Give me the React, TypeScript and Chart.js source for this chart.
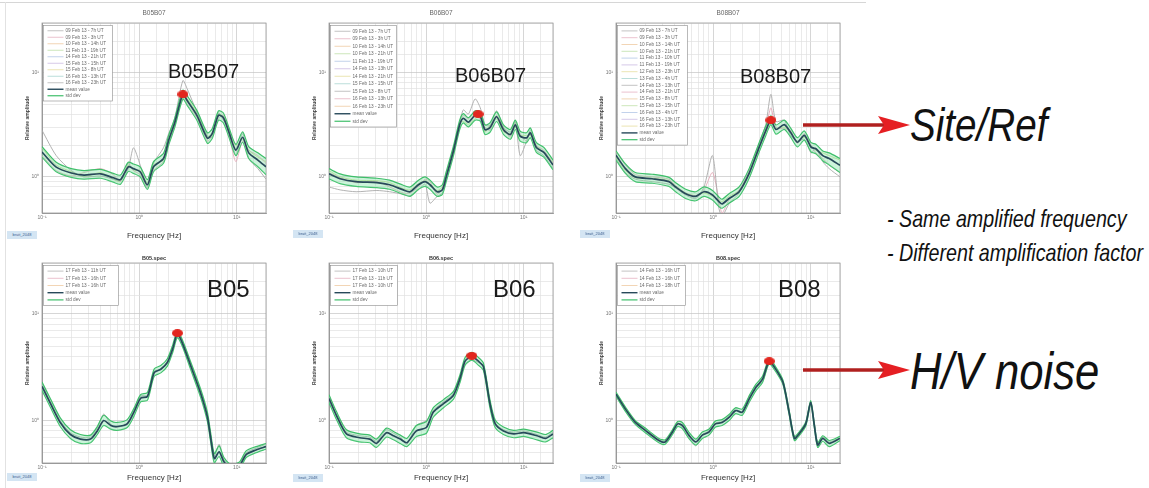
import React, { useEffect, useRef } from "react";
import { Chart, registerables } from "chart.js";
Chart.register(...registerables);

// ---------------- DATA ----------------
// B05B07 : site / reference spectral ratio
const b05b07Freq = [0.1, 0.14, 0.2, 0.27, 0.4, 0.54, 0.64, 0.77, 0.87, 1.02, 1.21, 1.4, 1.77, 2.0, 2.3, 2.8, 3.1, 3.9, 5.0, 5.6, 6.5, 7.3, 8.3, 9.8, 11.5, 13.3, 16.5, 20];
const b05b07Mean = [1.73, 1.24, 1.09, 1.04, 1.07, 0.98, 0.94, 1.25, 1.2, 1.12, 0.84, 1.25, 1.5, 2.25, 3.27, 6.2, 5.4, 3.9, 2.35, 2.6, 3.9, 3.7, 2.7, 1.8, 2.4, 1.7, 1.45, 1.25];
const b05b07Upper = [1.95, 1.38, 1.2, 1.15, 1.18, 1.08, 1.04, 1.38, 1.33, 1.25, 0.94, 1.4, 1.68, 2.5, 3.6, 6.8, 6.0, 4.35, 2.65, 2.9, 4.3, 4.1, 3.0, 2.05, 2.7, 1.95, 1.7, 1.5];
const b05b07Lower = [1.55, 1.12, 0.99, 0.95, 0.97, 0.89, 0.85, 1.13, 1.08, 1.0, 0.76, 1.12, 1.35, 2.02, 2.95, 5.6, 4.85, 3.5, 2.1, 2.33, 3.5, 3.3, 2.42, 1.6, 2.15, 1.5, 1.25, 1.05];
const b05b07RecA = [2.8, 1.6, 1.15, 1.0, 1.02, 0.95, 0.92, 1.2, 1.9, 1.3, 0.8, 1.35, 1.9, 2.6, 3.6, 8.4, 7.0, 4.2, 2.5, 2.4, 4.1, 3.5, 2.9, 1.6, 2.6, 1.5, 1.2, 0.95];
const b05b07RecB = [1.6, 1.15, 1.02, 1.1, 1.2, 1.05, 0.9, 1.35, 1.15, 1.05, 0.78, 1.15, 1.4, 2.1, 3.1, 6.4, 5.0, 3.7, 2.2, 2.5, 3.6, 3.9, 2.6, 1.4, 2.2, 1.8, 1.6, 1.35];
const b05b07RecC = [1.9, 1.3, 1.12, 1.0, 1.1, 0.95, 0.9, 1.3, 1.15, 1.15, 0.88, 1.3, 1.45, 2.3, 3.3, 5.7, 5.6, 4.1, 2.45, 2.6, 4.0, 3.8, 2.8, 2.0, 2.3, 1.8, 1.55, 1.4];
const b05b07Peak = [2.8, 6.2];
const b05b07Dates = ["09 Feb 13 - 7h UT", "09 Feb 13 - 3h UT", "10 Feb 13 - 14h UT", "11 Feb 13 - 19h UT", "14 Feb 13 - 21h UT", "15 Feb 13 - 15h UT", "15 Feb 13 - 8h UT", "16 Feb 13 - 13h UT", "16 Feb 13 - 23h UT"];

// B06B07
const b06b07Freq = [0.1, 0.13, 0.19, 0.31, 0.42, 0.58, 0.68, 0.83, 0.97, 1.09, 1.29, 1.46, 1.6, 1.9, 2.2, 2.4, 2.7, 3.17, 3.58, 4.0, 4.5, 5.27, 6.2, 7.3, 8.2, 9.2, 10.7, 11.7, 13.5, 16.1, 20];
const b06b07Mean = [1.07, 0.96, 0.9, 0.88, 0.84, 0.75, 0.72, 0.84, 0.9, 0.84, 0.72, 0.75, 1.0, 1.78, 3.16, 3.65, 3.35, 3.9, 3.8, 2.84, 2.97, 3.78, 2.84, 2.55, 3.16, 2.46, 2.37, 2.64, 1.91, 1.72, 1.3];
const b06b07Upper = [1.2, 1.07, 1.0, 0.97, 0.93, 0.83, 0.8, 0.93, 1.0, 0.93, 0.8, 0.84, 1.12, 1.98, 3.5, 4.05, 3.7, 4.3, 4.2, 3.15, 3.3, 4.2, 3.15, 2.85, 3.5, 2.75, 2.65, 2.95, 2.13, 1.92, 1.45];
const b06b07Lower = [0.96, 0.86, 0.81, 0.79, 0.76, 0.68, 0.65, 0.76, 0.81, 0.76, 0.65, 0.68, 0.9, 1.6, 2.85, 3.3, 3.02, 3.5, 3.43, 2.56, 2.68, 3.4, 2.56, 2.3, 2.85, 2.2, 2.13, 2.38, 1.72, 1.55, 1.17];
const b06b07RecA = [0.8, 0.75, 0.72, 0.74, 0.72, 0.68, 0.66, 0.75, 0.85, 0.56, 0.65, 0.7, 1.0, 1.9, 3.3, 4.4, 4.0, 5.6, 4.6, 3.2, 3.1, 4.3, 3.0, 2.7, 3.4, 1.6, 2.2, 2.8, 1.8, 1.6, 1.2];
const b06b07RecB = [1.1, 0.98, 0.88, 0.9, 0.8, 0.7, 0.7, 0.8, 0.95, 0.9, 0.68, 0.78, 1.05, 1.7, 3.0, 3.9, 3.6, 4.2, 3.5, 3.0, 2.8, 3.9, 3.0, 2.4, 3.3, 2.6, 2.2, 2.7, 2.0, 1.8, 1.35];
const b06b07RecC = [1.15, 1.0, 0.93, 0.92, 0.88, 0.77, 0.75, 0.86, 0.92, 0.86, 0.74, 0.8, 1.05, 1.85, 3.3, 3.4, 3.2, 3.6, 3.9, 2.7, 3.1, 3.6, 2.7, 2.6, 3.0, 2.5, 2.5, 2.5, 2.0, 1.7, 1.4];
const b06b07Peak = [3.4, 4.0];
const b06b07Dates = ["09 Feb 13 - 7h UT", "09 Feb 13 - 3h UT", "10 Feb 13 - 14h UT", "10 Feb 13 - 21h UT", "11 Feb 13 - 19h UT", "14 Feb 13 - 13h UT", "14 Feb 13 - 21h UT", "15 Feb 13 - 15h UT", "15 Feb 13 - 8h UT", "16 Feb 13 - 13h UT", "16 Feb 13 - 23h UT"];

// B08B07
const b08b07Freq = [0.1, 0.125, 0.158, 0.235, 0.35, 0.41, 0.52, 0.66, 0.8, 0.98, 1.14, 1.23, 1.45, 1.84, 2.33, 2.96, 3.46, 3.9, 4.4, 5.35, 6.2, 7.3, 8.6, 10.1, 11.3, 13.3, 15.5, 20];
const b08b07Mean = [1.61, 1.2, 1.0, 0.96, 0.9, 0.8, 0.69, 0.65, 0.72, 0.67, 0.58, 0.55, 0.62, 0.72, 1.08, 1.93, 2.78, 3.5, 2.85, 3.17, 2.68, 2.15, 2.5, 1.93, 1.86, 1.6, 1.5, 1.29];
const b08b07Upper = [1.78, 1.33, 1.1, 1.06, 0.99, 0.88, 0.76, 0.72, 0.8, 0.74, 0.64, 0.61, 0.69, 0.8, 1.2, 2.14, 3.08, 3.85, 3.15, 3.5, 2.96, 2.38, 2.76, 2.13, 2.06, 1.77, 1.7, 1.5];
const b08b07Lower = [1.45, 1.08, 0.9, 0.87, 0.81, 0.72, 0.62, 0.59, 0.65, 0.6, 0.52, 0.5, 0.56, 0.65, 0.97, 1.74, 2.5, 3.17, 2.57, 2.86, 2.42, 1.94, 2.25, 1.74, 1.67, 1.43, 1.3, 1.1];
const b08b07RecA = [1.5, 1.1, 0.95, 0.9, 0.85, 0.78, 0.67, 0.62, 0.8, 1.6, 0.5, 0.42, 0.55, 0.7, 1.05, 2.1, 3.2, 6.2, 3.4, 3.5, 2.5, 2.2, 2.3, 1.7, 1.9, 1.4, 1.2, 1.0];
const b08b07RecB = [1.75, 1.3, 1.05, 1.0, 0.95, 0.82, 0.7, 0.66, 0.75, 1.1, 0.6, 0.45, 0.6, 0.75, 1.15, 2.0, 2.9, 4.6, 3.0, 2.9, 2.8, 2.1, 2.6, 2.0, 1.7, 1.5, 1.3, 1.1];
const b08b07RecC = [1.55, 1.15, 0.98, 0.97, 0.92, 0.82, 0.7, 0.66, 0.7, 0.65, 0.6, 0.58, 0.65, 0.74, 1.1, 1.9, 2.7, 3.3, 2.9, 3.0, 2.7, 2.2, 2.4, 2.0, 1.8, 1.7, 1.6, 1.45];
const b08b07Peak = [3.9, 3.5];
const b08b07Dates = ["09 Feb 13 - 7h UT", "09 Feb 13 - 3h UT", "10 Feb 13 - 14h UT", "10 Feb 13 - 21h UT", "11 Feb 13 - 10h UT", "11 Feb 13 - 19h UT", "12 Feb 13 - 23h UT", "13 Feb 13 - 4h UT", "14 Feb 13 - 13h UT", "14 Feb 13 - 21h UT", "15 Feb 13 - 8h UT", "15 Feb 13 - 15h UT", "16 Feb 13 - 4h UT", "16 Feb 13 - 13h UT", "16 Feb 13 - 23h UT"];

// B05 : H/V noise
const b05Freq = [0.1, 0.122, 0.154, 0.196, 0.248, 0.315, 0.37, 0.43, 0.51, 0.59, 0.75, 0.88, 1.03, 1.21, 1.42, 1.66, 1.94, 2.2, 2.46, 2.77, 3.37, 4.26, 5.0, 5.4, 5.9, 6.6, 7.4, 8.7, 10.7, 12.5, 15.8, 20];
const b05Mean = [2.09, 1.45, 0.96, 0.74, 0.67, 0.67, 0.8, 1.0, 0.9, 0.88, 0.93, 1.2, 1.62, 1.68, 2.81, 3.03, 3.5, 4.7, 6.5, 5.3, 3.26, 1.8, 1.08, 0.69, 0.44, 0.51, 0.41, 0.36, 0.38, 0.48, 0.53, 0.57];
const b05Upper = [2.3, 1.6, 1.06, 0.82, 0.74, 0.73, 0.88, 1.12, 0.99, 0.96, 1.02, 1.3, 1.75, 1.83, 3.05, 3.28, 3.8, 5.1, 6.9, 5.7, 3.55, 1.98, 1.2, 0.77, 0.49, 0.58, 0.45, 0.39, 0.41, 0.52, 0.57, 0.61];
const b05Lower = [1.92, 1.33, 0.88, 0.68, 0.61, 0.62, 0.74, 0.9, 0.83, 0.81, 0.86, 1.1, 1.5, 1.55, 2.6, 2.8, 3.24, 4.35, 6.0, 4.95, 3.0, 1.65, 0.98, 0.63, 0.4, 0.46, 0.37, 0.33, 0.35, 0.45, 0.5, 0.54];
const b05RecA = [2.2, 1.5, 1.0, 0.77, 0.7, 0.7, 0.85, 1.15, 0.92, 0.86, 0.95, 1.25, 1.7, 1.72, 2.9, 3.0, 3.6, 4.8, 6.1, 5.5, 3.4, 1.9, 1.1, 0.72, 0.47, 0.6, 0.43, 0.38, 0.4, 0.5, 0.55, 0.6];
const b05Peak = [2.46, 6.6];
const b05Dates = ["17 Feb 13 - 11h UT", "17 Feb 13 - 16h UT", "17 Feb 13 - 16h UT"];

// B06
const b06Freq = [0.1, 0.119, 0.151, 0.207, 0.263, 0.307, 0.39, 0.46, 0.54, 0.63, 0.79, 1.0, 1.18, 1.5, 1.9, 2.22, 2.5, 2.93, 3.43, 3.86, 4.5, 5.1, 6.2, 7.9, 10, 13.7, 16.7, 20];
const b06Mean = [1.61, 1.12, 0.75, 0.69, 0.67, 0.61, 0.77, 0.72, 0.67, 0.62, 0.8, 0.86, 1.2, 1.44, 1.73, 2.49, 3.6, 4.0, 3.6, 3.2, 1.44, 0.93, 0.8, 0.75, 0.77, 0.72, 0.68, 0.75];
const b06Upper = [1.75, 1.22, 0.82, 0.75, 0.73, 0.67, 0.85, 0.79, 0.73, 0.68, 0.9, 0.98, 1.32, 1.57, 1.88, 2.7, 3.9, 4.35, 3.9, 3.45, 1.57, 1.01, 0.87, 0.81, 0.83, 0.78, 0.74, 0.81];
const b06Lower = [1.48, 1.03, 0.69, 0.63, 0.62, 0.56, 0.7, 0.66, 0.61, 0.57, 0.71, 0.76, 1.08, 1.32, 1.59, 2.28, 3.3, 3.68, 3.3, 2.95, 1.32, 0.86, 0.74, 0.69, 0.71, 0.66, 0.63, 0.69];
const b06RecA = [1.7, 1.15, 0.78, 0.72, 0.7, 0.64, 0.82, 0.76, 0.7, 0.6, 0.9, 1.0, 1.25, 1.5, 1.8, 2.6, 3.4, 3.7, 3.5, 3.3, 1.5, 0.95, 0.82, 0.78, 0.8, 0.74, 0.7, 0.78];
const b06Peak = [2.93, 4.05];
const b06Dates = ["17 Feb 13 - 10h UT", "17 Feb 13 - 11h UT", "17 Feb 13 - 10h UT"];

// B08
const b08Freq = [0.1, 0.125, 0.158, 0.2, 0.276, 0.32, 0.38, 0.43, 0.48, 0.56, 0.66, 0.77, 0.9, 1.05, 1.23, 1.45, 1.69, 1.98, 2.33, 2.73, 3.2, 3.75, 4.4, 5.2, 6.0, 6.8, 7.6, 8.9, 10.0, 10.9, 11.8, 13.3, 15.5, 20];
const b08Mean = [1.77, 1.28, 0.96, 0.81, 0.65, 0.63, 0.78, 0.93, 0.9, 0.73, 0.63, 0.73, 0.78, 0.93, 0.96, 1.07, 1.24, 1.2, 1.59, 2.04, 2.44, 3.6, 3.0, 2.27, 1.2, 0.68, 0.75, 0.93, 1.48, 0.9, 0.59, 0.68, 0.61, 0.68];
const b08Upper = [1.85, 1.34, 1.0, 0.85, 0.68, 0.66, 0.82, 0.98, 0.96, 0.78, 0.67, 0.78, 0.83, 0.99, 1.02, 1.14, 1.32, 1.28, 1.7, 2.18, 2.6, 3.8, 3.15, 2.38, 1.26, 0.71, 0.78, 0.97, 1.54, 0.94, 0.62, 0.72, 0.65, 0.71];
const b08Lower = [1.7, 1.22, 0.92, 0.77, 0.62, 0.6, 0.74, 0.88, 0.84, 0.68, 0.59, 0.68, 0.73, 0.87, 0.9, 1.0, 1.16, 1.12, 1.48, 1.9, 2.28, 3.4, 2.85, 2.16, 1.14, 0.65, 0.72, 0.89, 1.42, 0.86, 0.56, 0.64, 0.57, 0.65];
const b08RecA = [1.8, 1.3, 0.98, 0.83, 0.66, 0.64, 0.8, 0.96, 0.86, 0.7, 0.58, 0.74, 0.8, 0.95, 0.98, 1.1, 1.3, 1.15, 1.7, 2.1, 2.3, 3.5, 3.05, 2.3, 1.22, 0.69, 0.74, 0.95, 1.5, 0.92, 0.62, 0.7, 0.63, 0.69];
const b08Peak = [3.75, 3.6];
const b08Dates = ["14 Feb 13 - 16h UT", "14 Feb 13 - 16h UT", "14 Feb 13 - 18h UT"];

const xRange = [0.1, 20];
const yMaxAll = 30;
const yMinTop = 0.45;
const yMinBottom = 0.4;

// ---------------- STYLE ----------------
const FONT = '"Liberation Sans", Arial, sans-serif';
const MEAN = "#27495a";
const STD = "#3fbf6a";
const BAND = "rgba(120, 225, 160, 0.38)";
const REC_COLORS = ["#a9a9a9", "#e3a9b8", "#cddc90"];
const LEG_COLORS = ["#b4b4b4", "#e6b3c2", "#efcaa2", "#bfe0a8", "#b3c7e6", "#cbbbe2", "#e6dea0", "#a9d6d0"];

const SUP: Record<string, string> = { "-": "\u207b", "0": "\u2070", "1": "\u00b9", "2": "\u00b2" };
function decadeLabel(v: number | string) {
  const l = Math.log10(Number(v));
  const r = Math.round(l);
  if (Math.abs(l - r) > 1e-6) return "";
  return "10" + String(r).split("").map((c) => SUP[c] || c).join("");
}

const framePlugin = {
  id: "frame",
  beforeDatasetsDraw(chart: any) {
    const { ctx, chartArea: a } = chart;
    ctx.save();
    ctx.strokeStyle = "#9a9a9a";
    ctx.lineWidth = 0.8;
    ctx.strokeRect(a.left, a.top, a.right - a.left, a.bottom - a.top);
    ctx.restore();
  },
};

const boxLegendPlugin = {
  id: "boxLegend",
  afterDatasetsDraw(chart: any, _args: any, opts: any) {
    const entries = opts && opts.entries;
    if (!entries) return;
    const { ctx, chartArea: a } = chart;
    const x = Math.round(a.left) + 1.5;
    const y = Math.round(a.top) + 2.5;
    const w = opts.width;
    const h = entries.length * opts.rowH + 4;
    ctx.save();
    ctx.fillStyle = "#ffffff";
    ctx.fillRect(x, y, w, h);
    ctx.strokeStyle = "#8a8a8a";
    ctx.lineWidth = 0.6;
    ctx.strokeRect(x, y, w, h);
    ctx.font = `${opts.fontSize}px ${FONT}`;
    ctx.textBaseline = "middle";
    entries.forEach((e: any, i: number) => {
      const cy = y + 2 + opts.rowH * (i + 0.5);
      ctx.strokeStyle = e.color;
      ctx.lineWidth = e.lw;
      ctx.beginPath();
      ctx.moveTo(x + 4, cy);
      ctx.lineTo(x + 20, cy);
      ctx.stroke();
      ctx.fillStyle = "#6a6a6a";
      ctx.fillText(e.text, x + 22, cy);
    });
    ctx.restore();
  },
};

type PanelProps = {
  left: number; top: number; width: number; height: number;
  title: string; titleSize: number; titleBold: boolean; titlePad: { top: number; bottom: number };
  xAxisHeight: number; xTitlePadBottom: number; yMin: number;
  freq: number[]; mean: number[]; upper: number[]; lower: number[]; records: number[][];
  peak: number[]; dates: string[]; legendW: number; legendRowH: number;
};

function Panel(p: PanelProps) {
  const ref = useRef<HTMLCanvasElement | null>(null);
  useEffect(() => {
    const canvas = ref.current;
    if (!canvas) return;
    const dot = document.createElement("canvas");
    dot.width = 11;
    dot.height = 8;
    const dc = dot.getContext("2d");
    if (dc) {
      dc.fillStyle = "#e2261e";
      dc.beginPath();
      dc.ellipse(5.5, 4, 5.5, 4, 0, 0, Math.PI * 2);
      dc.fill();
    }
    const pts = (vals: number[]) => p.freq.map((f, i) => ({ x: f, y: vals[i] }));
    const line = { pointRadius: 0, tension: 0.25, fill: false };
    const datasets: any[] = [];
    p.records.forEach((r, i) =>
      datasets.push({ ...line, data: pts(r), borderColor: REC_COLORS[i % REC_COLORS.length], borderWidth: 0.9, order: 4 })
    );
    datasets.push({ ...line, data: pts(p.upper), borderColor: STD, borderWidth: 1.2, fill: "+1", backgroundColor: BAND, order: 3 });
    datasets.push({ ...line, data: pts(p.lower), borderColor: STD, borderWidth: 1.2, order: 3 });
    datasets.push({ ...line, data: pts(p.mean), borderColor: MEAN, borderWidth: 1.7, order: 1 });
    datasets.push({ data: [{ x: p.peak[0], y: p.peak[1] }], showLine: false, pointStyle: dot, pointRadius: 5, order: 0 });

    const entries = [
      ...p.dates.map((d, i) => ({ text: d, color: LEG_COLORS[i % LEG_COLORS.length], lw: 0.8 })),
      { text: "mean value", color: MEAN, lw: 1.4 },
      { text: "std dev", color: STD, lw: 1.2 },
    ];
    const gridColor = (c: any) => (c.tick && c.tick.major ? "#c4c4c4" : "#e1e1e1");

    const chart = new Chart(canvas, {
      type: "line",
      data: { datasets },
      plugins: [framePlugin, boxLegendPlugin],
      options: {
        animation: false,
        responsive: false,
        maintainAspectRatio: false,
        events: [],
        layout: { padding: { left: 0, right: 10, top: 0, bottom: 0 } },
        plugins: {
          legend: { display: false },
          tooltip: { enabled: false },
          title: {
            display: true,
            text: p.title,
            fullSize: false,
            color: p.titleBold ? "#333" : "#666",
            font: { size: p.titleSize, family: FONT, weight: p.titleBold ? "bold" : "normal" },
            padding: p.titlePad,
          },
          boxLegend: { entries, width: p.legendW, rowH: p.legendRowH, fontSize: 4.7 },
        } as any,
        scales: {
          x: {
            type: "logarithmic",
            min: xRange[0],
            max: xRange[1],
            grid: { color: gridColor, lineWidth: 0.7, drawTicks: false },
            border: { color: "#9a9a9a" },
            ticks: { autoSkip: false, maxRotation: 0, minRotation: 0, padding: 2, color: "#777", font: { size: 5, family: FONT }, callback: (v: any) => decadeLabel(v) },
            title: { display: true, text: "Frequency [Hz]", color: "#333", font: { size: 8, family: FONT }, padding: { top: 0, bottom: p.xTitlePadBottom } },
            afterFit: (axis: any) => { axis.height = p.xAxisHeight; },
          },
          y: {
            type: "logarithmic",
            min: p.yMin,
            max: yMaxAll,
            grid: { color: gridColor, lineWidth: 0.7, drawTicks: false },
            border: { color: "#9a9a9a" },
            ticks: { autoSkip: false, padding: 3, color: "#777", font: { size: 5, family: FONT }, callback: (v: any) => decadeLabel(v) },
            title: { display: true, text: "Relative amplitude", color: "#444", font: { size: 5, family: FONT, weight: "bold" }, padding: { top: 25, bottom: 0 } },
            afterFit: (axis: any) => { axis.width = 42; },
          },
        } as any,
      },
    });
    return () => chart.destroy();
  }, []);
  return (
    <canvas
      ref={ref}
      width={p.width}
      height={p.height}
      style={{ position: "absolute", left: p.left, top: p.top, width: p.width, height: p.height }}
    />
  );
}

const COL_LEFT = [0, 287, 574];
const TOP_ROW = { top: 0, height: 245, xAxisHeight: 32, xTitlePadBottom: 4.2, titleSize: 6.5, titleBold: false, titlePad: { top: 9.1, bottom: 6.1 }, yMin: yMinTop };
const BOT_ROW = { top: 248, height: 240, xAxisHeight: 25, xTitlePadBottom: 5.2, titleSize: 5.5, titleBold: true, titlePad: { top: 6.7, bottom: 1.7 }, yMin: yMinBottom };

const panels: PanelProps[] = [
  { ...TOP_ROW, left: COL_LEFT[0], width: 276, title: "B05B07", freq: b05b07Freq, mean: b05b07Mean, upper: b05b07Upper, lower: b05b07Lower, records: [b05b07RecA, b05b07RecB, b05b07RecC], peak: b05b07Peak, dates: b05b07Dates, legendW: 69, legendRowH: 6.5 },
  { ...TOP_ROW, left: COL_LEFT[1], width: 276, title: "B06B07", freq: b06b07Freq, mean: b06b07Mean, upper: b06b07Upper, lower: b06b07Lower, records: [b06b07RecA, b06b07RecB, b06b07RecC], peak: b06b07Peak, dates: b06b07Dates, legendW: 66, legendRowH: 7.5 },
  { ...TOP_ROW, left: COL_LEFT[2], width: 276, title: "B08B07", freq: b08b07Freq, mean: b08b07Mean, upper: b08b07Upper, lower: b08b07Lower, records: [b08b07RecA, b08b07RecB, b08b07RecC], peak: b08b07Peak, dates: b08b07Dates, legendW: 70, legendRowH: 6.8 },
  { ...BOT_ROW, left: COL_LEFT[0], width: 276, title: "B05.spec", freq: b05Freq, mean: b05Mean, upper: b05Upper, lower: b05Lower, records: [b05RecA], peak: b05Peak, dates: b05Dates, legendW: 75, legendRowH: 7.2 },
  { ...BOT_ROW, left: COL_LEFT[1], width: 276, title: "B06.spec", freq: b06Freq, mean: b06Mean, upper: b06Upper, lower: b06Lower, records: [b06RecA], peak: b06Peak, dates: b06Dates, legendW: 67, legendRowH: 7.2 },
  { ...BOT_ROW, left: COL_LEFT[2], width: 276, title: "B08.spec", freq: b08Freq, mean: b08Mean, upper: b08Upper, lower: b08Lower, records: [b08RecA], peak: b08Peak, dates: b08Dates, legendW: 68, legendRowH: 7.2 },
];

const bigLabels = [
  { text: "B05B07", left: 168, top: 61, size: 20 },
  { text: "B06B07", left: 455, top: 65, size: 20 },
  { text: "B08B07", left: 740, top: 66, size: 20 },
  { text: "B05", left: 207, top: 277, size: 24 },
  { text: "B06", left: 493, top: 277, size: 24 },
  { text: "B08", left: 778, top: 277, size: 24 },
];

const badges = [
  { left: 7, top: 231 }, { left: 293, top: 230 }, { left: 580, top: 230 },
  { left: 7, top: 473 }, { left: 293, top: 474 }, { left: 580, top: 474 },
];

const sideTexts = [
  { text: "Site/Ref", left: 910, top: 102, size: 46, sx: 0.84 },
  { text: "- Same amplified frequency", left: 887, top: 207, size: 24, sx: 0.82 },
  { text: "- Different amplification factor", left: 887, top: 241, size: 24, sx: 0.82 },
  { text: "H/V noise", left: 910, top: 345, size: 52, sx: 0.84 },
];

const arrowYs = [125, 370];

export default function App() {
  return (
    <div style={{ position: "relative", width: 1149, height: 488, background: "#fff", overflow: "hidden", fontFamily: FONT }}>
      <style>{`body{margin:0;background:#fff}`}</style>
      <div style={{ position: "absolute", left: 0, top: 2, width: 866, height: 1, background: "#d6d6d6" }} />
      <div style={{ position: "absolute", left: 5, top: 2, width: 1, height: 486, background: "#e2e2e2" }} />
      {panels.map((p, i) => (
        <Panel key={i} {...p} />
      ))}
      {bigLabels.map((b, i) => (
        <div key={"b" + i} style={{ position: "absolute", left: b.left, top: b.top, fontSize: b.size, lineHeight: 1, color: "#1a1a1a", fontFamily: FONT, whiteSpace: "nowrap" }}>
          {b.text}
        </div>
      ))}
      {badges.map((b, i) => (
        <div key={"g" + i} style={{ position: "absolute", left: b.left, top: b.top, width: 30, height: 8, background: "#d4e5f3", color: "#3d5f8f", fontSize: 4, lineHeight: "8px", textAlign: "center", fontFamily: FONT, overflow: "hidden", whiteSpace: "nowrap" }}>
          bruit_2048
        </div>
      ))}
      {sideTexts.map((t, i) => (
        <div key={"s" + i} style={{ position: "absolute", left: t.left, top: t.top, fontSize: t.size, lineHeight: 1, fontStyle: "italic", color: "#111", fontFamily: FONT, whiteSpace: "nowrap", transform: `scaleX(${t.sx})`, transformOrigin: "0 0" }}>
          {t.text}
        </div>
      ))}
      <svg width={1149} height={488} style={{ position: "absolute", left: 0, top: 0, pointerEvents: "none" }}>
        {arrowYs.map((y, i) => (
          <g key={i}>
            <line x1={803} y1={y} x2={886} y2={y} stroke="#b0201f" strokeWidth={3.5} />
            <polygon points={`878,${y - 9} 910,${y} 878,${y + 9} 884,${y}`} fill="#e51f23" />
          </g>
        ))}
      </svg>
    </div>
  );
}
